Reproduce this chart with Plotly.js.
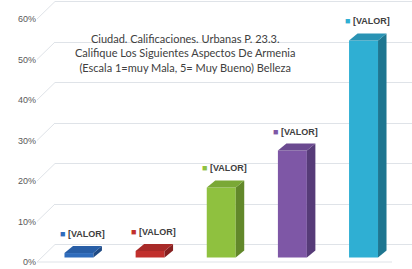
<!DOCTYPE html>
<html><head><meta charset="utf-8">
<script src="https://cdn.plot.ly/plotly-3.0.1.min.js"></script>
<style>html,body{margin:0;padding:0;background:#fff;}#chart{width:412px;height:269px;}</style>
</head><body><div id="chart"></div>
<script>
// ---- data ----
const categories = ["1", "2", "3", "4", "5"];
const values = [0.011, 0.016, 0.173, 0.264, 0.536];
const barLabels = ["[VALOR]", "[VALOR]", "[VALOR]", "[VALOR]", "[VALOR]"];
const tickValues = [0, 0.1, 0.2, 0.3, 0.4, 0.5, 0.6];
const tickLabels = ["0%", "10%", "20%", "30%", "40%", "50%", "60%"];
const titleLines = ["Ciudad. Calificaciones. Urbanas P. 23.3.",
  "Califique Los Siguientes Aspectos De Armenia",
  "(Escala 1=muy Mala, 5= Muy Bueno) Belleza"];

// ---- styles ----
const frontColors = ["#2f6cbc", "#c1302d", "#8fc13f", "#7e57a6", "#2fafd3"];
const sideColors  = ["#1f4a84", "#862020", "#62882a", "#563b78", "#1e7690"];
const topColors   = ["#285ea6", "#a82a28", "#7aa836", "#6b4a90", "#2993b4"];
const W = 412, H = 269;
const pxPerUnitY = 405;              // pixels per 1.0 (100%)
const yFront = [-7 / pxPerUnitY, 0.6 + 19 / pxPerUnitY];
const backOff = 17.5 / pxPerUnitY;   // depth offset of back wall
const barBase = 4.5 / pxPerUnitY;    // bars sit in middle of floor depth
const pxPerUnitX = 71.2;
const xLeftPx = 37, xBackPx = 55;
const xRange = [-(79 - xLeftPx) / pxPerUnitX, 4 + (W - 363.5) / pxPerUnitX];
const barW = 29 / pxPerUnitX;
const dx = 8.5 / pxPerUnitX, dy = 7 / pxPerUnitY;
const gridColor = "#dfe3e8";

const xs = categories.map((c, i) => i);
const traces = [];
// invisible trace on back-wall subplot so its grid draws
traces.push({x: [0], y: [0], xaxis: "x", yaxis: "y", mode: "markers",
  marker: {opacity: 0}, hoverinfo: "skip", showlegend: false});
// front faces
traces.push({type: "bar", x: xs, y: values, base: values.map(() => barBase),
  width: barW, xaxis: "x2", yaxis: "y2",
  marker: {color: frontColors, line: {width: 0}}, showlegend: false, hoverinfo: "skip"});
// side and top faces
values.forEach((v, i) => {
  const xl = xs[i] - barW / 2, xr = xs[i] + barW / 2;
  const b = barBase, t = barBase + v;
  traces.push({x: [xr, xr, xr + dx, xr + dx, xr], y: [b, t, t + dy, b + dy, b],
    xaxis: "x2", yaxis: "y2", mode: "lines", fill: "toself", fillcolor: sideColors[i],
    line: {width: 0}, showlegend: false, hoverinfo: "skip"});
  traces.push({x: [xl, xr, xr + dx, xl + dx, xl], y: [t, t, t + dy, t + dy, t],
    xaxis: "x2", yaxis: "y2", mode: "lines", fill: "toself", fillcolor: topColors[i],
    line: {width: 0}, showlegend: false, hoverinfo: "skip"});
});

const shapes = tickValues.map(v => ({type: "line", xref: "paper", yref: "y2",
  x0: xLeftPx / W, x1: xBackPx / W, y0: v, y1: v + backOff,
  line: {color: gridColor, width: 1}, layer: "below"}));
shapes.push({type: "line", xref: "paper", yref: "y2", x0: xLeftPx / W, x1: 392 / W,
  y0: 0, y1: 0, line: {color: gridColor, width: 1}, layer: "below"});

const annotations = values.map((v, i) => ({xref: "x2", yref: "y2",
  x: xs[i] + 0.05, y: barBase + v, yshift: 19, showarrow: false,
  text: '<span style="color:' + frontColors[i] + '">■</span> <b>' + barLabels[i] + '</b>',
  font: {family: "Liberation Sans, Arial, sans-serif", size: 9, color: "#404040"}}));
annotations.push({xref: "paper", yref: "paper", x: 185 / W, y: 1 - 53 / H,
  xanchor: "center", yanchor: "middle",
  showarrow: false, text: titleLines.join("<br>"), align: "center",
  font: {family: "Lato, sans-serif", size: 11, color: "#404040"}});

const layout = {
  width: W, height: H, margin: {l: 0, r: 0, t: 0, b: 0},
  paper_bgcolor: "#fff", plot_bgcolor: "rgba(0,0,0,0)", showlegend: false,
  xaxis: {domain: [xBackPx / W, 1], range: [0, 1], visible: true, showgrid: false,
    zeroline: false, showticklabels: false, showline: false, ticks: ""},
  yaxis: {domain: [0, 1], range: [yFront[0] - backOff, yFront[1] - backOff],
    tickvals: tickValues, showgrid: true, gridcolor: gridColor, gridwidth: 1,
    zeroline: false, showticklabels: false, showline: false, ticks: ""},
  xaxis2: {domain: [xLeftPx / W, 1], range: xRange, anchor: "y2", showgrid: false,
    zeroline: false, showticklabels: false, showline: false, ticks: ""},
  yaxis2: {domain: [0, 1], range: yFront, anchor: "x2", tickvals: tickValues,
    ticktext: tickLabels, showgrid: false, zeroline: false, showline: false, ticks: "",
    tickfont: {family: "Liberation Sans, Arial, sans-serif", size: 9, color: "#595959"}},
  shapes: shapes, annotations: annotations
};
Plotly.newPlot("chart", traces, layout, {displayModeBar: false, staticPlot: true});
</script></body></html>
